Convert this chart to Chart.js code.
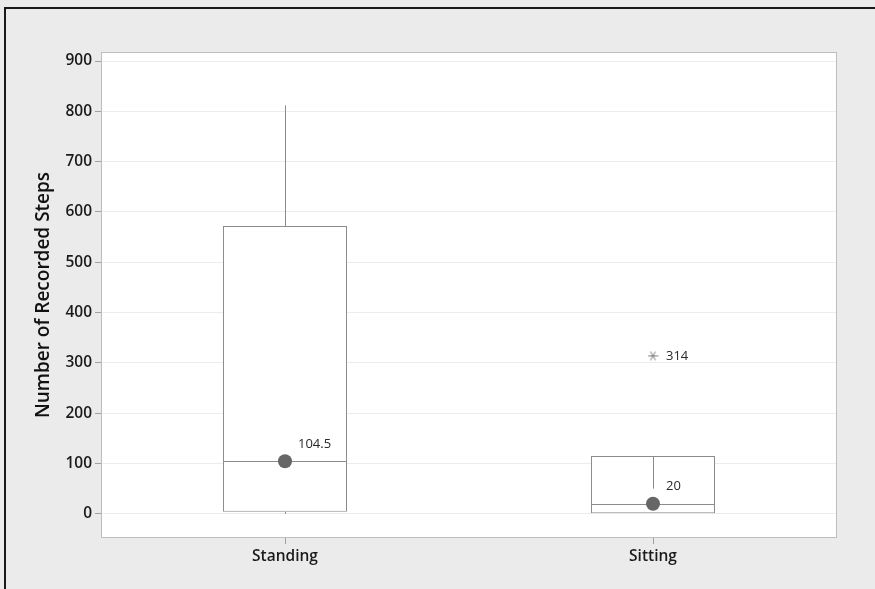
<!DOCTYPE html>
<html>
<head>
<meta charset="utf-8">
<script src="https://cdn.jsdelivr.net/npm/chart.js@4.4.1/dist/chart.umd.min.js"></script>
<style>
  html, body { margin: 0; padding: 0; background: #ebebeb; }
  #wrap { position: relative; width: 875px; height: 589px; background: #ebebeb; overflow: hidden; }
  #frame { position: absolute; left: 4px; top: 7px; right: -10px; bottom: -10px;
           border-left: 2px solid #1a1a1a; border-top: 2px solid #1a1a1a; pointer-events: none; }
  canvas { position: absolute; left: 0; top: 0; }
</style>
</head>
<body>
<div id="wrap">
  <canvas id="chart" width="875" height="589"></canvas>
  <div id="frame"></div>
</div>
<script>
/* ---- data ---- */
const categories  = ['Standing', 'Sitting'];
const q1          = [4, 0];
const medians     = [104.5, 20];
const q3          = [572, 115];
const whiskerLow  = [0, 0];
const whiskerHigh = [812, 50];
const outliers    = [null, 314];
const yTicks      = [0, 100, 200, 300, 400, 500, 600, 700, 800, 900];

const FONT = "'Open Sans', 'Noto Sans', sans-serif";
const LINE = '#8c8c8c';

// Minitab-like asterisk for outliers
function makeAsterisk(size, color) {
  const c = document.createElement('canvas');
  c.width = size; c.height = size;
  const g = c.getContext('2d');
  const r = size / 2 - 0.5, m = size / 2;
  g.strokeStyle = color;
  g.lineWidth = 1;
  g.beginPath();
  [0, 60, 120].forEach(deg => {
    const a = deg * Math.PI / 180;
    g.moveTo(m - r * Math.cos(a), m - r * Math.sin(a));
    g.lineTo(m + r * Math.cos(a), m + r * Math.sin(a));
  });
  g.stroke();
  return c;
}

// white plot area + gray frame
const plotArea = {
  id: 'plotArea',
  beforeDraw(chart) {
    const { ctx, chartArea: a } = chart;
    ctx.save();
    ctx.fillStyle = '#ffffff';
    ctx.fillRect(a.left, a.top, a.right - a.left, a.bottom - a.top);
    ctx.restore();
  },
  beforeDatasetsDraw(chart) {
    const { ctx, chartArea: a } = chart;
    ctx.save();
    ctx.strokeStyle = '#bdbdbd';
    ctx.lineWidth = 1;
    ctx.strokeRect(a.left + 0.5, a.top + 0.5, a.right - a.left - 1, a.bottom - a.top - 1);
    ctx.restore();
  }
};

// whiskers and median lines, drawn right after the boxes
const boxParts = {
  id: 'boxParts',
  afterDatasetDraw(chart, args) {
    if (args.index !== 0) return;
    const { ctx } = chart;
    const x = chart.scales.x, y = chart.scales.y;
    ctx.save();
    ctx.strokeStyle = LINE;
    ctx.lineWidth = 1;
    args.meta.data.forEach((bar, i) => {
      const cx = Math.round(x.getPixelForValue(i)) + 0.5;
      const half = bar.width / 2;
      ctx.beginPath();
      ctx.moveTo(cx, y.getPixelForValue(q3[i]));
      ctx.lineTo(cx, y.getPixelForValue(whiskerHigh[i]));
      ctx.moveTo(cx, y.getPixelForValue(q1[i]));
      ctx.lineTo(cx, y.getPixelForValue(whiskerLow[i]));
      const my = Math.round(y.getPixelForValue(medians[i])) + 0.5;
      ctx.moveTo(bar.x - half, my);
      ctx.lineTo(bar.x + half, my);
      ctx.stroke();
    });
    ctx.restore();
  },
  afterDatasetsDraw(chart) {
    const { ctx } = chart;
    const x = chart.scales.x, y = chart.scales.y;
    ctx.save();
    ctx.fillStyle = '#2a2a2a';
    ctx.font = '13px ' + FONT;
    ctx.textBaseline = 'middle';
    ctx.textAlign = 'left';
    categories.forEach((c, i) => {
      const px = x.getPixelForValue(i);
      ctx.fillText(String(medians[i]), px + 13, y.getPixelForValue(medians[i]) - 17);
      if (outliers[i] != null) {
        ctx.fillText(String(outliers[i]), px + 13, y.getPixelForValue(outliers[i]));
      }
    });
    ctx.restore();
  }
};

new Chart(document.getElementById('chart'), {
  data: {
    labels: categories,
    datasets: [
      {
        type: 'bar',
        order: 3,
        data: q1.map((v, i) => [v, q3[i]]),
        backgroundColor: '#ffffff',
        borderColor: LINE,
        borderWidth: 1,
        borderSkipped: false,
        barPercentage: 0.337,
        categoryPercentage: 1
      },
      {
        type: 'line',
        order: 1,
        data: medians,
        showLine: false,
        pointRadius: 7,
        pointBackgroundColor: '#666666',
        pointBorderWidth: 0
      },
      {
        type: 'line',
        order: 1,
        data: outliers,
        showLine: false,
        pointStyle: makeAsterisk(11, '#7a7a7a')
      }
    ]
  },
  options: {
    responsive: false,
    animation: false,
    layout: { padding: { left: 0, top: 52, right: 38, bottom: 0 } },
    plugins: { legend: { display: false }, tooltip: { enabled: false } },
    scales: {
      x: {
        offset: true,
        grid: { display: true, offset: false, drawOnChartArea: false, tickLength: 6, tickColor: '#a0a0a0' },
        border: { display: false },
        ticks: { color: '#1a1a1a', padding: 3, font: { family: FONT, size: 15.5, weight: '600' } },
        afterFit(s) { s.height = 51; }
      },
      y: {
        min: -48,
        max: 918,
        afterBuildTicks(s) { s.ticks = yTicks.map(v => ({ value: v })); },
        grid: { color: '#ececec', tickLength: 6, tickColor: '#a0a0a0' },
        border: { display: false },
        ticks: { color: '#1a1a1a', padding: 3, font: { family: FONT, size: 15.5, weight: '600' } },
        title: {
          display: true,
          text: 'Number of Recorded Steps',
          color: '#111111',
          padding: { top: 32, bottom: 0 },
          font: { family: FONT, size: 19, weight: '600' }
        },
        afterFit(s) { s.width = 101; }
      }
    }
  },
  plugins: [plotArea, boxParts]
});
</script>
</body>
</html>
